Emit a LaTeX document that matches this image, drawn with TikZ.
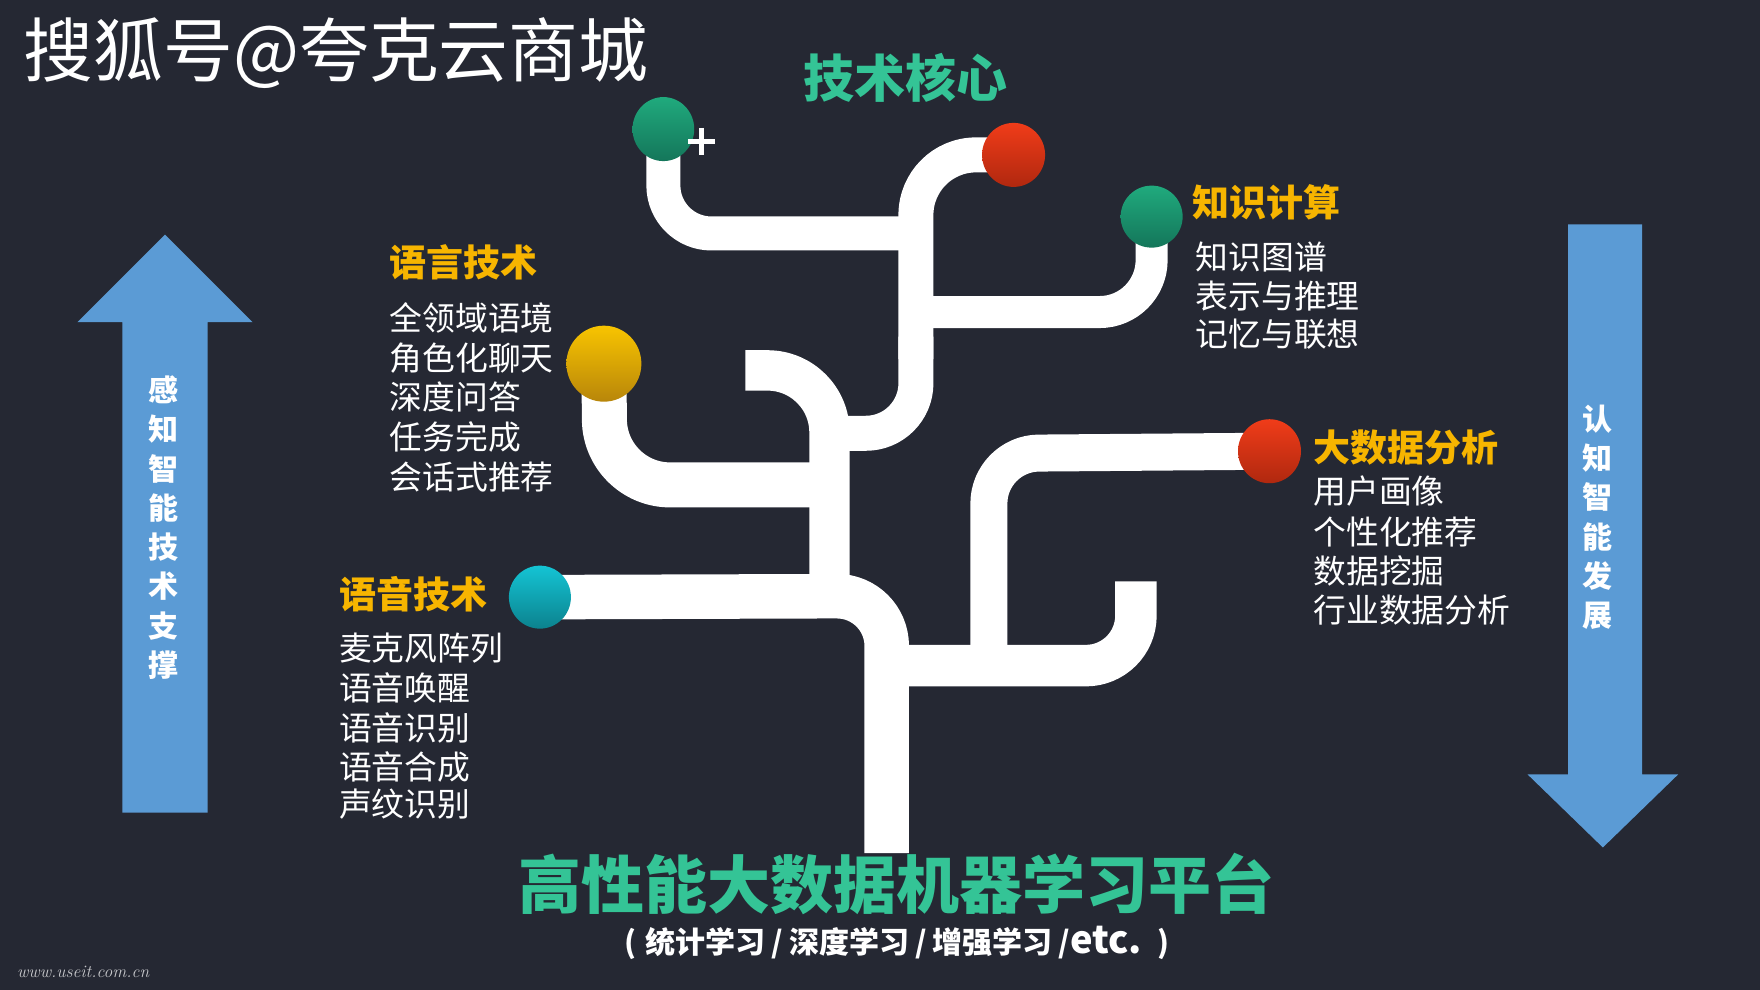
\documentclass[tikz,border=0pt]{standalone}
\usepackage{fontspec}
\newfontfamily\cjk{Noto Sans CJK SC}
\usetikzlibrary{shapes.geometric}
\definecolor{bgC}{RGB}{37,40,51}
\definecolor{tealT}{RGB}{52,196,150}
\definecolor{orangeT}{RGB}{247,181,0}
\definecolor{blueA}{RGB}{91,155,213}
\definecolor{gTop}{RGB}{32,170,125}
\definecolor{gBot}{RGB}{20,118,90}
\definecolor{rTop}{RGB}{240,60,25}
\definecolor{rBot}{RGB}{176,40,15}
\definecolor{yTop}{RGB}{248,196,0}
\definecolor{yBot}{RGB}{184,134,10}
\definecolor{cTop}{RGB}{20,196,212}
\definecolor{cBot}{RGB}{12,130,142}
\begin{document}
\begin{tikzpicture}[x=1.1224pt,y=-1.1224pt,
  tree/.style={draw=white, line cap=butt, line join=round},
  ball/.style={ellipse, inner sep=0pt, draw=none},
  lst/.style={anchor=west, inner sep=0pt, text=white, font=\cjk\fontsize{32.8}{32.8}\selectfont, text height=24.3pt, text depth=0pt},
  lbl/.style={anchor=west, inner sep=0pt, text=orangeT, font=\cjk\bfseries\fontsize{37}{37}\selectfont, text height=27.4pt, text depth=0pt},
  vtext/.style={inner sep=0pt, text=white, align=center, font=\cjk\bfseries\fontsize{30}{39.3}\selectfont},
  arrowshape/.style={fill=blueA, draw=none}
]
\fill[bgC] (0,0) rectangle (1568,882);
\useasboundingbox (0,0) rectangle (1568,882);

% watermark
\node[anchor=west, inner sep=0pt, text=white, font=\cjk\fontsize{69.8}{69.8}\selectfont, text height=51.6pt, text depth=0pt] (wm) at (21,45) {搜狐号@夸克云商城};

% ball centres
\coordinate (pG1) at (591,115);
\coordinate (pR1) at (903,138);
\coordinate (pG2) at (1026,193);
\coordinate (pY) at (538,324);
\coordinate (pC) at (481,532);
\coordinate (pR2) at (1131,402);
\coordinate (hook) at (664,330);
\coordinate (root) at (790,760);
\coordinate (hk) at (1012,518);

% tree
\draw[tree, line width=34pt, rounded corners=48pt] (pG1) -- (591,208) -- (818,208);
\draw[tree, line width=35pt, rounded corners=60pt] (pR1) -- (816,138) -- (816,320);
\draw[tree, line width=35pt, rounded corners=50pt] (816,300) -- (816,386) -- (739,386);
\draw[tree, line width=32pt, rounded corners=52pt] (816,278) -- (1026,278) -- (pG2);
\draw[tree, line width=45pt, rounded corners=65pt] (pY) -- (539,432) -- (739,432);
\draw[tree, line width=40.4pt, rounded corners=62pt] (hook) -- (739,330) -- (739,535);
\draw[tree, line width=44.5pt, rounded corners=50pt] (pC) -- (790,531) -- (root);
\draw[tree, line width=41.5pt, rounded corners=50pt] (790,593) -- (1012,593) -- (hk);
\draw[tree, line width=37pt, rounded corners=50pt] (pR2) -- (881,404) -- (881,593);

% balls
\node[ball, minimum width=61.7pt, minimum height=64pt, top color=gTop, bottom color=gBot] (g1) at (pG1) {};
\node[ball, minimum width=63pt, minimum height=64pt, top color=rTop, bottom color=rBot] (r1) at (pR1) {};
\node[ball, minimum width=62pt, minimum height=62pt, top color=gTop, bottom color=gBot] (g2) at (pG2) {};
\node[ball, minimum width=75pt, minimum height=76pt, top color=yTop, bottom color=yBot] (y1) at (pY) {};
\node[ball, minimum width=62pt, minimum height=63pt, top color=cTop, bottom color=cBot] (c1) at (pC) {};
\node[ball, minimum width=63pt, minimum height=64pt, top color=rTop, bottom color=rBot] (r2) at (pR2) {};

% plus mark
\coordinate (plusc) at (625,126);
\draw[white, line width=4.5pt] (613,126) -- (637,126) (625,114) -- (625,138);

% titles
\node[inner sep=0pt, text=tealT, font=\cjk\bfseries\fontsize{51}{51}\selectfont, text height=37.7pt, text depth=0pt] (core) at (807,70) {技术核心};
\node[inner sep=0pt, text=tealT, font=\cjk\bfseries\fontsize{63}{63}\selectfont, text height=46.6pt, text depth=0pt] (plat) at (799,789) {高性能大数据机器学习平台};
\node[inner sep=0pt, text=white, font=\cjk\bfseries\fontsize{30}{30}\selectfont, text height=22.2pt, text depth=0pt] (sub) at (799,840) {(\hspace{0.3em}统计学习\hspace{0.2em}/\hspace{0.2em}深度学习\hspace{0.2em}/\hspace{0.2em}增强学习\hspace{0.2em}/{\fontsize{38}{38}\selectfont etc.}\hspace{0.5em})};

% language
\node[lbl] (lang) at (347,234) {语言技术};
\node[lst] (l1) at (347,284) {全领域语境};
\node[lst] (l2) at (347,319) {角色化聊天};
\node[lst] (l3) at (347,354) {深度问答};
\node[lst] (l4) at (347,390) {任务完成};
\node[lst] (l5) at (347,425) {会话式推荐};

% knowledge
\node[lbl] (kn) at (1062,181) {知识计算};
\node[lst] (k1) at (1065,229) {知识图谱};
\node[lst] (k2) at (1065,264) {表示与推理};
\node[lst] (k3) at (1065,298) {记忆与联想};

% big data
\node[lbl] (bd) at (1170,399) {大数据分析};
\node[lst] (b1) at (1170,438) {用户画像};
\node[lst] (b2) at (1170,474) {个性化推荐};
\node[lst] (b3) at (1170,509) {数据挖掘};
\node[lst] (b4) at (1170,544) {行业数据分析};

% speech
\node[lbl] (sp) at (302,530) {语音技术};
\node[lst] (s1) at (302,578) {麦克风阵列};
\node[lst] (s2) at (302,613) {语音唤醒};
\node[lst] (s3) at (302,649) {语音识别};
\node[lst] (s4) at (302,684) {语音合成};
\node[lst] (s5) at (302,717) {声纹识别};

% arrows
\fill[arrowshape] (109,724) -- (109,287) -- (69,287) -- (147,209) -- (225,287) -- (185,287) -- (185,724) -- cycle;
\node[vtext] (perc) at (146,470) {感\\知\\智\\能\\技\\术\\支\\撑};
\fill[arrowshape] (1397,200) -- (1463,200) -- (1463,690) -- (1495,690) -- (1428,755) -- (1361,690) -- (1397,690) -- cycle;
\node[vtext] (cogn) at (1423,461) {认\\知\\智\\能\\发\\展};

% url
\node[anchor=west, inner sep=0pt, text=white!75!bgC, font=\itshape\fontsize{17.5}{17.5}\selectfont] (url) at (15,866) {www.useit.com.cn};
\end{tikzpicture}
\end{document}
